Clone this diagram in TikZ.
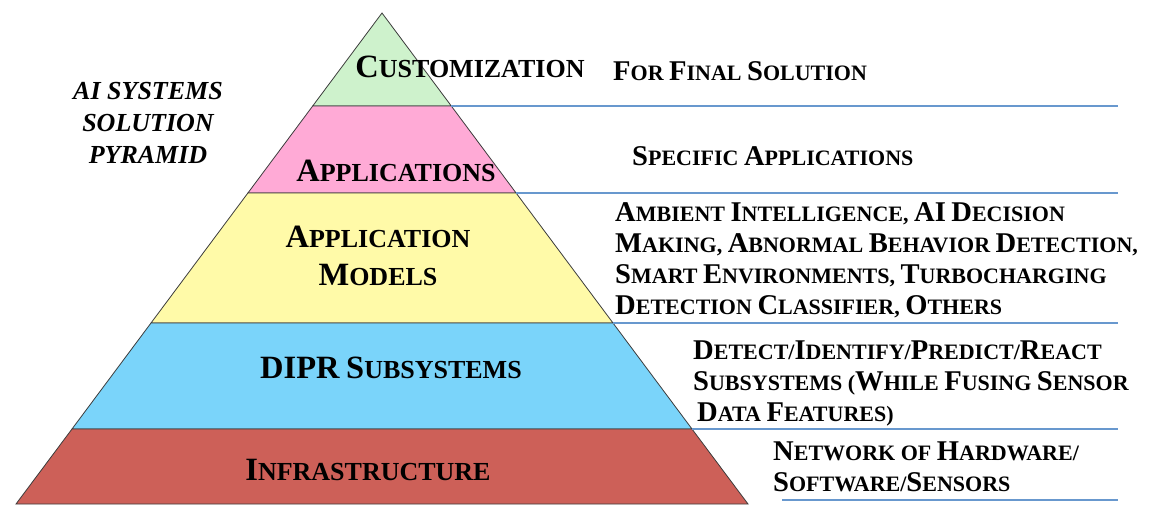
\documentclass[tikz,border=0pt]{standalone}
\usepackage{fontspec}
\setmainfont{Liberation Serif}
\usepackage{graphicx}
\newcommand\Bc[1]{\scalebox{1.3}{#1}}
\newcommand\Bp[1]{\scalebox{1.25}{#1}}
\definecolor{cgreen}{RGB}{206,242,204}
\definecolor{cpink}{RGB}{255,170,214}
\definecolor{cyellow}{RGB}{255,250,168}
\definecolor{cblue}{RGB}{122,212,250}
\definecolor{cred}{RGB}{205,96,88}
\definecolor{cline}{RGB}{104,152,206}
\definecolor{cedge}{RGB}{60,60,60}
\tikzset{
  layer/.style={draw=cedge, line width=0.8pt},
  sepline/.style={draw=cline, line width=2.6pt},
  plabel/.style={inner sep=0pt, anchor=base, font=\fontsize{26}{38}\selectfont\bfseries},
  rtext/.style={inner sep=0pt, align=left, font=\fontsize{22}{31}\selectfont\bfseries},
  title/.style={inner sep=0pt, align=center, font=\fontsize{26}{32}\selectfont\bfseries\itshape}
}
\begin{document}
\begin{tikzpicture}[x=1pt,y=-1pt]
\useasboundingbox (0,0) rectangle (1152,504);
% pyramid corner coordinates
\coordinate (apex) at (382,13);
\coordinate (l1) at (312.7,106); \coordinate (r1) at (451.3,106);
\coordinate (l2) at (247.9,193); \coordinate (r2) at (516.1,193);
\coordinate (l3) at (151,323);   \coordinate (r3) at (613,323);
\coordinate (l4) at (72,429);    \coordinate (r4) at (692,429);
\coordinate (l5) at (16,504);    \coordinate (r5) at (748,504);
% layers
\filldraw[layer, fill=cgreen]  (apex) -- (r1) -- (l1) -- cycle;
\filldraw[layer, fill=cpink]   (l1) -- (r1) -- (r2) -- (l2) -- cycle;
\filldraw[layer, fill=cyellow] (l2) -- (r2) -- (r3) -- (l3) -- cycle;
\filldraw[layer, fill=cblue]   (l3) -- (r3) -- (r4) -- (l4) -- cycle;
\filldraw[layer, fill=cred]    (l4) -- (r4) -- (r5) -- (l5) -- cycle;
% separator lines
\coordinate (e1) at (1118,106);
\coordinate (e2) at (1118,193);
\coordinate (e3) at (1118,323);
\coordinate (e4) at (1118,429);
\coordinate (s5) at (782,500);
\coordinate (e5) at (1118,500);
\draw[sepline] (r1) -- (e1);
\draw[sepline] (r2) -- (e2);
\draw[sepline] (r3) -- (e3);
\draw[sepline] (r4) -- (e4);
\draw[sepline] (s5) -- (e5);
% pyramid labels
\node[plabel] (custom) at (470,77) {\Bp{C}USTOMIZATION};
\node[plabel] (apps) at (396,181) {\Bp{A}PPLICATIONS};
\node[plabel, align=center, anchor=north] (models) at (378,226) {\Bp{A}PPLICATION\\\Bp{M}ODELS};
\node[plabel] (dipr) at (391,378) {\Bp{DIPR} \Bp{S}UBSYSTEMS};
\node[plabel] (infra) at (368,480) {\Bp{I}NFRASTRUCTURE};
% title
\node[title, anchor=north] (ttl) at (148,82) {AI SYSTEMS\\SOLUTION\\PYRAMID};
% right texts
\node[rtext, anchor=base west] (t1) at (613,80) {\Bc{F}OR \Bc{F}INAL \Bc{S}OLUTION};
\node[rtext, anchor=base west] (t2) at (632,165) {\Bc{S}PECIFIC \Bc{A}PPLICATIONS};
\node[rtext, anchor=north west] (t3) at (615,202) {\Bc{A}MBIENT \Bc{I}NTELLIGENCE, \Bc{AI} \Bc{D}ECISION\\
\Bc{M}AKING, \Bc{A}BNORMAL \Bc{B}EHAVIOR \Bc{D}ETECTION,\\
\Bc{S}MART \Bc{E}NVIRONMENTS, \Bc{T}URBOCHARGING\\
\Bc{D}ETECTION \Bc{C}LASSIFIER, \Bc{O}THERS};
\node[rtext, anchor=north west] (t4) at (693,341) {\Bc{D}ETECT/\Bc{I}DENTIFY/\Bc{P}REDICT/\Bc{R}EACT\\
\Bc{S}UBSYSTEMS (\Bc{W}HILE \Bc{F}USING \Bc{S}ENSOR\\
\hspace*{4pt}\Bc{D}ATA \Bc{F}EATURES)};
\node[rtext, anchor=north west] (t5) at (773,442) {\Bc{N}ETWORK OF \Bc{H}ARDWARE/\\
\Bc{S}OFTWARE/\Bc{S}ENSORS};
\end{tikzpicture}
\end{document}
